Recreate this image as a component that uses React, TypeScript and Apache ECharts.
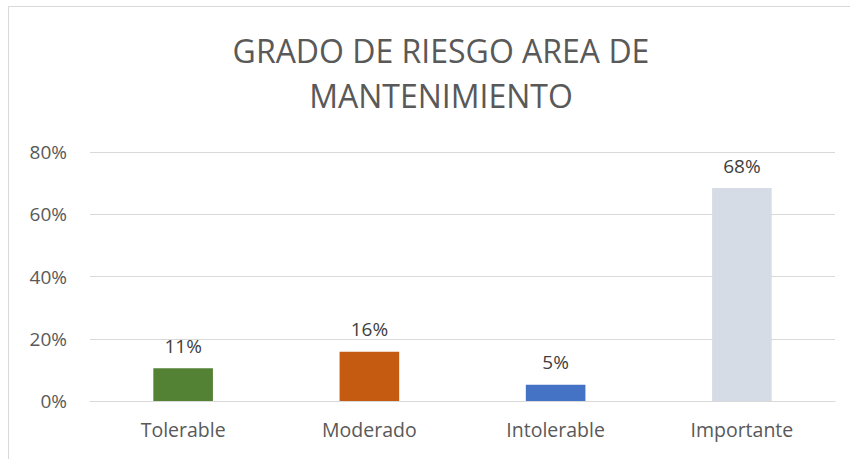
import React, { useEffect, useRef } from "react";
import * as echarts from "echarts";

const titleLines = ["GRADO DE RIESGO AREA DE", "MANTENIMIENTO"];
const categories = ["Tolerable", "Moderado", "Intolerable", "Importante"];
const values = [0.105, 0.158, 0.052, 0.684];
const barColors = ["#548235", "#C55A11", "#4472C4", "#D6DCE5"];
const yTicks = { min: 0, max: 0.8, interval: 0.2 };

export default function App() {
  const ref = useRef<HTMLDivElement>(null);
  useEffect(() => {
    document.body.style.margin = "0";
    if (!ref.current) return;
    const chart = echarts.init(ref.current, null, { renderer: "svg" });
    const font = "Open Sans";
    chart.setOption({
      animation: false,
      backgroundColor: "#ffffff",
      textStyle: { fontFamily: font },
      graphic: [
        {
          type: "rect",
          shape: { x: 8.5, y: 6.5, width: 900, height: 500 },
          style: { fill: "none", stroke: "#D9D9D9", lineWidth: 1 },
          silent: true,
        },
      ],
      title: {
        text: titleLines.join("\n"),
        left: 436,
        textAlign: "center",
        top: 23,
        textStyle: {
          fontFamily: font,
          fontSize: 32,
          fontWeight: "normal",
          color: "#595959",
          lineHeight: 45,
        },
      },
      grid: { left: 90, right: 15, top: 152, bottom: 58, containLabel: false },
      xAxis: {
        type: "category",
        data: categories,
        axisLine: { show: true, lineStyle: { color: "#D9D9D9", width: 1 } },
        axisTick: { show: false },
        axisLabel: { color: "#595959", fontSize: 19.5, fontFamily: font, margin: 18 },
      },
      yAxis: {
        type: "value",
        min: yTicks.min,
        max: yTicks.max,
        interval: yTicks.interval,
        axisLine: { show: false },
        axisTick: { show: false },
        splitLine: { lineStyle: { color: "#D9D9D9", width: 1 } },
        axisLabel: {
          color: "#595959",
          fontSize: 19,
          fontFamily: font,
          margin: 23,
          formatter: (v: number) => Math.round(v * 100) + "%",
        },
      },
      series: [
        {
          type: "bar",
          barWidth: "32%",
          data: values.map((v, i) => ({ value: v, itemStyle: { color: barColors[i] } })),
          label: {
            show: true,
            position: "top",
            distance: 13,
            color: "#404040",
            fontSize: 19,
            fontFamily: font,
            formatter: (p: any) => Math.round(p.value * 100) + "%",
          },
        },
      ],
    });
    return () => chart.dispose();
  }, []);
  return <div ref={ref} style={{ width: 850, height: 459 }} />;
}
